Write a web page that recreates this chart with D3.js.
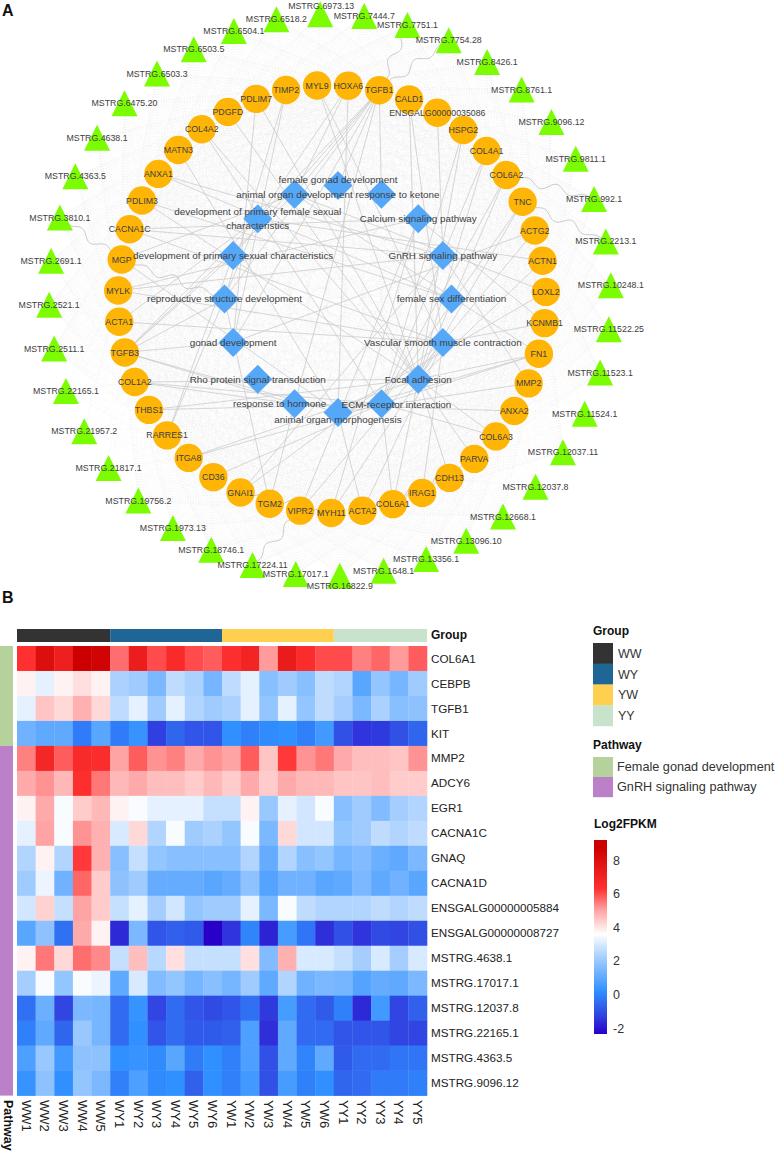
<!DOCTYPE html>
<html><head><meta charset="utf-8">
<script src="https://cdn.jsdelivr.net/npm/d3@7"></script>
<style>
html,body{margin:0;padding:0;background:#fff;overflow:hidden}
svg{display:block}
text{font-family:"Liberation Sans",Arial,sans-serif}
</style></head><body>
<div id="c"></div>
<script>
// ---------- Panel A data ----------
const lncRNAs = ["6973.13","7444.7","7751.1","7754.28","8426.1","8761.1","9096.12","9811.1","992.1","2213.1","10248.1","11522.25","11523.1","11524.1","12037.11","12037.8","12668.1","13096.10","13356.1","1648.1","16822.9","17017.1","17224.11","18746.1","1973.13","19756.2","21817.1","21957.2","22165.1","2511.1","2521.1","2691.1","3810.1","4363.5","4638.1","6475.20","6503.3","6503.5","6504.1","6518.2"].map(d=>"MSTRG."+d);
const genes = ["MYL9","HOXA6","TGFB1","CALD1","ENSGALG00000035086","HSPG2","COL4A1","COL6A2","TNC","ACTG2","ACTN1","LOXL2","KCNMB1","FN1","MMP2","ANXA2","COL6A3","PARVA","CDH13","IRAG1","COL6A1","ACTA2","MYH11","VIPR2","TGM2","GNAI1","CD36","ITGA8","RARRES1","THBS1","COL1A2","TGFB3","ACTA1","MYLK","MGP","CACNA1C","PDLIM3","ANXA1","MATN3","COL4A2","PDGFD","PDLIM7","TIMP2"];
const terms = ["female gonad development","response to ketone","Calcium signaling pathway","GnRH signaling pathway","female sex differentiation","Vascular smooth muscle contraction","Focal adhesion","ECM-receptor interaction","animal organ morphogenesis","response to hormone","Rho protein signal transduction","gonad development","reproductive structure development","development of primary sexual characteristics","development of primary female sexual characteristics","animal organ development"];
// gene -> indices into terms
const geneTerms = {
 TGFB1:[15,14,13,12,11,0,9,1], CALD1:[5,6], ENSGALG00000035086:[3], HSPG2:[6,7], COL4A1:[6,7], COL6A2:[6,7], TNC:[6,7], ACTG2:[5,11], ACTN1:[6,14],
 LOXL2:[8,15], KCNMB1:[2,5], FN1:[6,7,15,8], MMP2:[3,8], ANXA2:[9], COL6A3:[6,7], PARVA:[6], CDH13:[6], IRAG1:[5], COL6A1:[6,7],
 ACTA2:[5,8], MYH11:[5,2], VIPR2:[2,5], TGM2:[9,12], GNAI1:[3,5], CD36:[7], ITGA8:[6,7], RARRES1:[13,14], THBS1:[6,7], COL1A2:[6,7,9],
 TGFB3:[9,11,12,13,14,15,8], ACTA1:[5,14], MYLK:[2,3,5], MGP:[8,15], CACNA1C:[2,3,5], PDLIM3:[6,4], ANXA1:[4,3], MATN3:[8], COL4A2:[6,7], PDGFD:[6],
 PDLIM7:[6,11], TIMP2:[11,12], MYL9:[5,6], HOXA6:[15,8,14]
};
const wavyLinks = [["MSTRG.7751.1","TGFB1"],["MSTRG.7754.28","TGFB1"],["MSTRG.992.1","COL6A2"],["MSTRG.2213.1","TNC"],["MSTRG.3810.1","MGP"],["MSTRG.17224.11","VIPR2"],["PARVA","COL6A1"],["CDH13","ACTA2"],["MGP","reproductive structure development"],["MYH11","GNAI1"]];
const sparseLnc = ["MSTRG.21957.2","MSTRG.22165.1","MSTRG.21817.1","MSTRG.12037.8","MSTRG.11524.1"];

// ---------- Panel B data ----------
const samples = ["WW1","WW2","WW3","WW4","WW5","WY1","WY2","WY3","WY4","WY5","WY6","YW1","YW2","YW3","YW4","YW5","YW6","YY1","YY2","YY3","YY4","YY5"];
const rowNames = ["COL6A1","CEBPB","TGFB1","KIT","MMP2","ADCY6","EGR1","CACNA1C","GNAQ","CACNA1D","ENSGALG00000005884","ENSGALG00000008727","MSTRG.4638.1","MSTRG.17017.1","MSTRG.12037.8","MSTRG.22165.1","MSTRG.4363.5","MSTRG.9096.12"];
const expr = [
 [6.3,8.0,7.2,8.8,8.6,5.6,7.3,6.0,6.6,6.0,5.8,6.4,6.9,5.1,7.4,6.5,6.0,6.0,5.4,5.7,5.1,5.8],
 [3.8,3.2,3.8,4.1,3.8,2.3,2.1,1.5,2.6,2.3,1.4,2.6,3.2,1.7,2.1,1.7,2.6,2.4,0.9,1.9,1.4,2.1],
 [3.2,4.5,4.2,4.8,4.2,2.6,3.2,2.1,3.2,2.4,2.1,2.3,3.2,1.9,3.2,1.9,2.6,2.2,1.5,2.3,1.7,1.8],
 [1.3,1.0,1.0,-0.2,0.9,-0.2,0.3,-1.3,-0.6,-0.9,-0.9,0.2,-0.1,0.1,0.2,-0.1,0.5,-1.0,-1.5,-1.4,-1.0,-0.6],
 [5.4,6.8,5.8,6.6,6.5,5.0,5.8,5.2,5.4,4.9,5.2,5.0,5.8,4.5,6.2,5.2,5.5,4.9,4.6,4.6,4.5,5.2],
 [4.9,5.2,4.7,6.4,5.5,4.7,4.9,4.6,4.6,4.4,4.7,4.4,4.9,4.4,4.9,4.7,4.7,4.5,4.5,4.6,4.4,4.4],
 [3.8,4.9,3.5,4.4,4.7,3.8,3.5,3.2,3.2,3.2,2.7,2.7,3.8,2.0,3.2,2.9,3.5,1.7,2.1,1.6,2.2,2.4],
 [3.2,5.0,3.5,5.2,4.8,3.0,4.2,2.4,3.5,2.1,2.3,1.9,3.5,1.5,4.2,2.9,2.9,1.9,2.1,2.6,2.4,2.6],
 [2.4,3.8,2.4,6.2,4.8,1.7,2.7,1.9,1.7,1.7,1.7,1.7,2.4,1.1,2.4,1.7,1.9,1.4,1.6,1.2,1.0,1.5],
 [2.1,3.3,1.3,5.7,4.4,1.8,2.1,1.1,1.1,1.1,0.9,1.1,1.8,0.8,1.3,1.3,0.9,1.0,1.5,1.0,1.3,0.9],
 [2.9,4.3,2.7,5.0,4.4,2.7,3.2,2.2,2.9,1.9,2.1,2.1,3.2,1.5,3.5,2.6,2.4,2.4,2.4,2.6,2.4,2.6],
 [0.9,1.8,-0.4,4.9,3.8,-1.7,1.5,-0.9,-0.7,-0.8,-2.4,-1.5,0.0,-1.8,0.6,-0.3,-1.6,-1.0,-1.5,-1.1,-1.2,-1.0],
 [3.8,5.5,4.2,5.6,5.3,2.7,4.6,2.5,4.1,2.7,2.7,2.7,4.1,1.6,4.8,3.0,3.0,2.7,2.2,3.0,2.2,3.0],
 [2.2,3.5,1.9,3.5,3.3,1.0,3.0,1.6,1.9,1.4,1.7,1.4,2.1,1.0,2.4,1.3,1.5,1.4,0.8,1.1,1.0,1.5],
 [-0.4,1.2,-1.2,1.5,1.4,-0.5,0.3,-1.2,-0.5,-0.9,-1.1,-0.9,-0.4,-1.4,0.6,-0.5,-0.8,-0.1,-1.7,0.5,-1.2,-0.7],
 [-0.1,1.0,-0.6,2.0,1.4,-0.5,0.2,-0.9,-0.5,-0.8,-0.8,-0.7,0.7,-1.6,1.0,-0.5,-0.5,-0.9,-0.9,-0.9,-1.2,-1.2],
 [0.7,2.0,0.5,1.8,1.8,0.2,0.3,0.1,0.9,-0.2,0.2,-0.1,0.7,-1.0,1.0,0.0,1.0,-0.8,-0.5,-0.5,-0.3,-0.3],
 [0.3,1.8,0.2,1.9,1.5,-0.1,0.7,0.1,0.2,-0.7,0.2,-0.1,0.5,-1.0,0.6,-0.1,0.2,-0.6,-0.5,-0.2,-0.2,-0.1]
];
const groupNames = ["WW","WY","YW","YY"];
const groupColors = ["#333333","#1f6595","#ffd04f","#c8e2cc"];
const pathwayNames = ["Female gonad development","GnRH signaling pathway"];
const pathwayColors = ["#b5d29c","#bb80c8"];
const pathwayCounts = [4,14];
const colorDomain = [-2.4,-1.3,0.2,2.2,3.6,5,6.3,8.8];
const colorRange = ["#2800c8","#3040e0","#3090ff","#a5ceff","#ffffff","#ffa4a4","#ff3030","#cc0000"];
const legendTicks = [-2,0,2,4,6,8];

// ---------- Drawing ----------
const W=776,H=1152;
const svg=d3.select("#c").append("svg").attr("width",W).attr("height",H).attr("viewBox",`0 0 ${W} ${H}`);
const TEXT="#404040";

// ring layouts
function ring(names,cx,cy,r,startDeg){
  const ang=d3.scaleLinear().domain([0,names.length]).range([startDeg,startDeg+360]);
  return names.map((name,i)=>{const a=ang(i)*Math.PI/180;return {name,x:cx+r*Math.sin(a),y:cy-r*Math.cos(a)};});
}
const lncNodes=ring(lncRNAs,330,295,281,-2);
const geneNodes=ring(genes,332,299,214,-4);
const termNodes=ring(terms,338,299,113.5,0);
const byName=new Map([...lncNodes,...geneNodes,...termNodes].map(d=>[d.name,d]));

// lncRNA–gene mesh
const mesh=svg.append("g").attr("fill","none").attr("stroke","#d4d4d4").attr("stroke-width",0.4).attr("stroke-dasharray","1 1.6").attr("stroke-opacity",0.42);
lncNodes.forEach(l=>{
  geneNodes.forEach((g,gi)=>{
    if(sparseLnc.includes(l.name)&&gi%3) return;
    mesh.append("line").attr("x1",l.x).attr("y1",l.y).attr("x2",g.x).attr("y2",g.y);
  });
});

// gene–term edges
const edgeG=svg.append("g").attr("stroke","#cbcbcb").attr("stroke-width",0.8).attr("fill","none");
Object.entries(geneTerms).forEach(([g,ts])=>ts.forEach(t=>{
  const a=byName.get(g),b=termNodes[t];
  edgeG.append("line").attr("x1",a.x).attr("y1",a.y).attr("x2",b.x).attr("y2",b.y);
}));
// wavy links
const wl=d3.line().x(d=>d[0]).y(d=>d[1]).curve(d3.curveBasis);
wavyLinks.forEach(([p,q])=>{
  const a=byName.get(p),b=byName.get(q);
  const dx=b.x-a.x,dy=b.y-a.y,len=Math.hypot(dx,dy),n=Math.max(20,Math.round(len/2));
  const pts=d3.range(n+1).map(i=>{const t=i/n,o=Math.sin(t*len/5)*4.5*Math.sin(t*Math.PI);return [a.x+dx*t-dy/len*o,a.y+dy*t+dx/len*o];});
  edgeG.append("path").attr("d",wl(pts)).attr("stroke-width",1);
});

// nodes
svg.append("g").selectAll("path").data(lncNodes).join("path")
  .attr("transform",d=>`translate(${d.x},${d.y})`).attr("d","M0,-13L13,13L-13,13Z").attr("fill","#7cfc00");
svg.append("g").selectAll("circle").data(geneNodes).join("circle")
  .attr("cx",d=>d.x).attr("cy",d=>d.y).attr("r",14.2).attr("fill","#ffb506");
svg.append("g").selectAll("path").data(termNodes).join("path")
  .attr("transform",d=>`translate(${d.x},${d.y})`).attr("d","M0,-14.5L14.5,0L0,14.5L-14.5,0Z").attr("fill","#55a8f7");

// node labels
const lncOffset={"MSTRG.6973.13":[1,-8],"MSTRG.16822.9":[0,10]};
const termOffset={"female gonad development":[0,-6],"response to ketone":[16,0],"ECM-receptor interaction":[15,1],"animal organ morphogenesis":[0,7],"response to hormone":[-15,0]};
svg.append("g").selectAll("text").data(lncNodes).join("text")
  .attr("x",d=>d.x+(lncOffset[d.name]||[0,0])[0]).attr("y",d=>d.y+(lncOffset[d.name]||[0,0])[1]).attr("dy","0.35em")
  .attr("text-anchor","middle").attr("font-size",8.8).attr("fill",TEXT).text(d=>d.name);
svg.append("g").selectAll("text").data(geneNodes).join("text")
  .attr("x",d=>d.x).attr("y",d=>d.y).attr("dy","0.35em")
  .attr("text-anchor","middle").attr("font-size",8.8).attr("fill",TEXT).text(d=>d.name);
const tl=svg.append("g").selectAll("text").data(termNodes).join("text")
  .attr("text-anchor","middle").attr("font-size",9.9).attr("fill",TEXT)
  .attr("x",d=>d.x+(termOffset[d.name]||[0,0])[0]).attr("y",d=>d.y+(termOffset[d.name]||[0,0])[1]).attr("dy","0.35em");
tl.each(function(d){
  const sel=d3.select(this);
  if(d.name==="development of primary female sexual characteristics"){
    sel.attr("dy",null);
    sel.append("tspan").attr("x",d.x).attr("y",d.y-3.5).text("development of primary female sexual");
    sel.append("tspan").attr("x",d.x).attr("y",d.y+10.5).text("characteristics");
  } else sel.text(d.name);
});

// panel letters
svg.append("text").attr("x",2).attr("y",16).attr("font-size",16).attr("font-weight","bold").attr("fill","#111").text("A");
svg.append("text").attr("x",2).attr("y",603).attr("font-size",16).attr("font-weight","bold").attr("fill","#111").text("B");

// heatmap
const xS=d3.scaleBand().domain(samples).range([17,427]);
const yS=d3.scaleBand().domain(rowNames).range([646,1095.6]);
const color=d3.scaleLinear().domain(colorDomain).range(colorRange).clamp(true);
const cells=rowNames.flatMap((r,i)=>samples.map((s,j)=>({r,s,v:expr[i][j]})));
svg.append("g").selectAll("rect").data(cells).join("rect")
  .attr("x",d=>xS(d.s)).attr("y",d=>yS(d.r)).attr("width",xS.bandwidth()+0.3).attr("height",yS.bandwidth()+0.3)
  .attr("fill",d=>color(d.v));
// group bar: one block per group
const groupSamples=groupNames.map(g=>samples.filter(s=>s.startsWith(g)));
svg.append("g").selectAll("rect").data(groupSamples).join("rect")
  .attr("x",d=>xS(d[0])).attr("y",629).attr("width",d=>xS(d[d.length-1])+xS.bandwidth()-xS(d[0])).attr("height",13)
  .attr("fill",(d,i)=>groupColors[i]);
svg.append("text").attr("x",431).attr("y",639).attr("font-size",12).attr("font-weight","bold").attr("fill","#111").text("Group");
// pathway bar
let acc=0;
pathwayCounts.forEach((c,i)=>{
  const y0=yS(rowNames[acc]);acc+=c;
  svg.append("rect").attr("x",0).attr("y",y0).attr("width",13).attr("height",c*yS.bandwidth()).attr("fill",pathwayColors[i]);
});
// row labels
svg.append("g").selectAll("text").data(rowNames).join("text")
  .attr("x",431).attr("y",d=>yS(d)+yS.bandwidth()/2).attr("dy","0.35em").attr("font-size",11.7).attr("fill","#222").text(d=>d);
// col labels
svg.append("g").selectAll("text").data(samples).join("text")
  .attr("transform",d=>`translate(${xS(d)+xS.bandwidth()/2},1100) rotate(90)`).attr("dy","0.35em")
  .attr("font-size",13).attr("fill","#222").text(d=>d);
svg.append("text").attr("transform","translate(8,1100) rotate(90)").attr("dy","0.35em").attr("font-size",12.5).attr("font-weight","bold").attr("fill","#111").text("Pathway");

// legends
const LX=593;
function title(t,y,x){svg.append("text").attr("x",x||LX).attr("y",y).attr("font-size",12).attr("font-weight","bold").attr("fill","#111").text(t);}
title("Group",635);
const gy=d3.scaleBand().domain(groupNames).range([643,726]);
groupNames.forEach((g,i)=>{
  svg.append("rect").attr("x",LX).attr("y",gy(g)).attr("width",20).attr("height",gy.bandwidth()+0.2).attr("fill",groupColors[i]);
  svg.append("text").attr("x",618).attr("y",gy(g)+gy.bandwidth()/2).attr("dy","0.35em").attr("font-size",12.5).attr("fill","#333").text(g);
});
title("Pathway",749);
const py=d3.scaleBand().domain(pathwayNames).range([757,797]);
pathwayNames.forEach((g,i)=>{
  svg.append("rect").attr("x",LX).attr("y",py(g)).attr("width",20).attr("height",py.bandwidth()+0.2).attr("fill",pathwayColors[i]);
  svg.append("text").attr("x",617).attr("y",py(g)+py.bandwidth()/2).attr("dy","0.35em").attr("font-size",12.7).attr("fill","#333").text(g);
});
title("Log2FPKM",828,594);
const ly=d3.scaleLinear().domain([-2.35,9.2]).range([1034,840]);
const grad=svg.append("defs").append("linearGradient").attr("id","lg").attr("x1",0).attr("x2",0).attr("y1",1).attr("y2",0);
colorDomain.forEach(v=>grad.append("stop").attr("offset",(v+2.35)/(9.2+2.35)).attr("stop-color",color(v)));
svg.append("rect").attr("x",594).attr("y",840).attr("width",13).attr("height",194).attr("fill","url(#lg)");
const ax=svg.append("g").attr("transform","translate(607,0)").call(d3.axisRight(ly).tickValues(legendTicks).tickFormat(d=>String(d)).tickSize(0).tickPadding(6));
ax.select(".domain").remove();
ax.selectAll("text").attr("font-size",12.5).attr("fill","#333").style("font-family",'"Liberation Sans",Arial,sans-serif');
</script>
</body></html>
